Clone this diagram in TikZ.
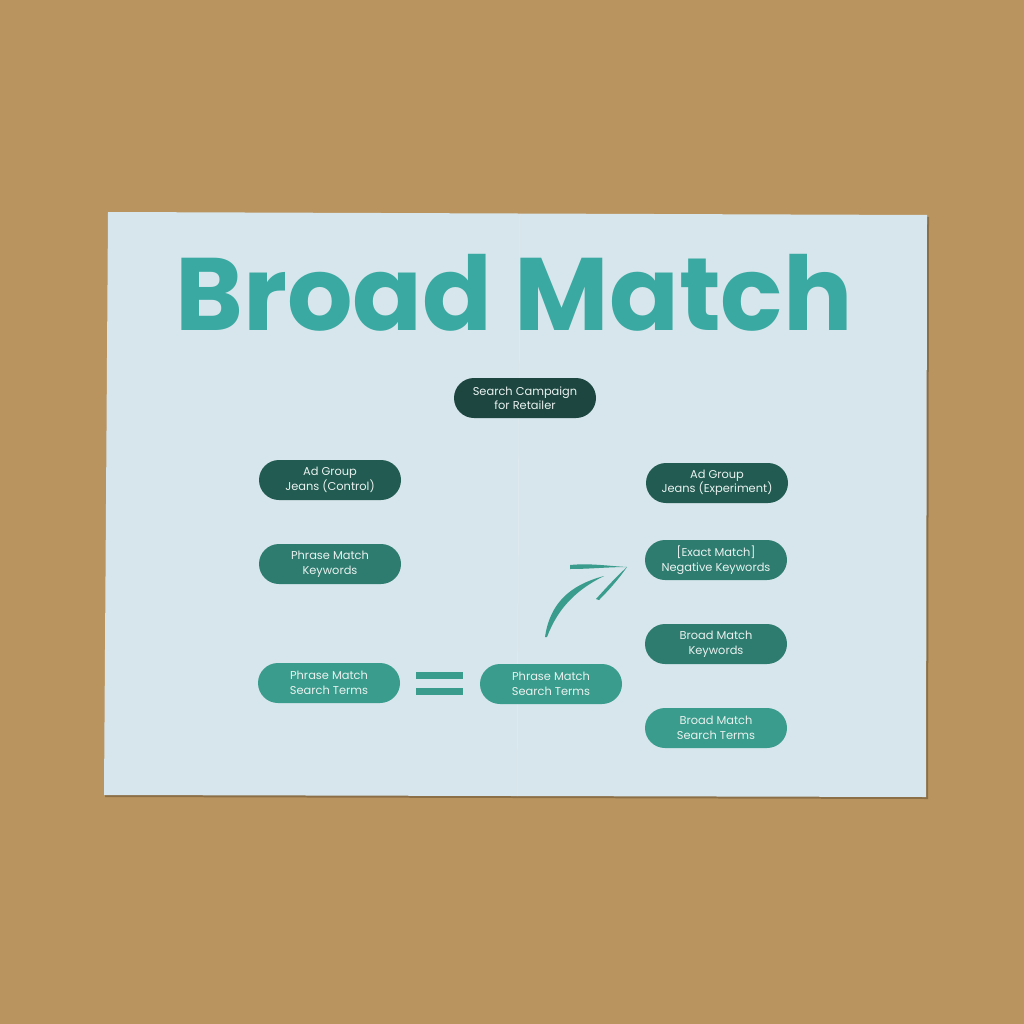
\documentclass[tikz,border=0pt]{standalone}
\usepackage{fontspec}
\setmainfont{Poppins}
\definecolor{kraft}{HTML}{B9945F}
\definecolor{paper}{HTML}{D7E6EC}
\definecolor{titleteal}{HTML}{3AA9A2}
\definecolor{pillA}{HTML}{1D4640}
\definecolor{pillB}{HTML}{215B51}
\definecolor{pillC}{HTML}{2E7C6F}
\definecolor{pillD}{HTML}{3A9C8C}
\definecolor{pilltext}{HTML}{EAF2F0}
\usetikzlibrary{shapes.misc}
\tikzset{
  pill/.style={rounded rectangle, draw=none, minimum width=142pt, minimum height=40pt,
    inner sep=0pt, text=pilltext, font=\fontsize{11.4}{14.5}\selectfont, align=center},
}
\begin{document}
\begin{tikzpicture}[x=1pt,y=-1pt]
\useasboundingbox (0,0) rectangle (1024,1024);
\fill[kraft] (0,0) rectangle (1024,1024);
% shadow
\fill[black!25!kraft] (109,214) -- (929,217) -- (928,799) -- (105,797) -- cycle;
% paper
\fill[paper] (108,212) -- (927,215) -- (926,797) -- (104,795) -- cycle;
\draw[white!25!paper, line width=0.5pt] (520,214) -- (517,796);
% title
\node[text=titleteal, font=\fontsize{103}{110}\selectfont\bfseries, inner sep=0pt] (title) at (514,293) {Broad Match};
% pills
\node[pill, fill=pillA] (camp) at (525,398) {Search Campaign\\for Retailer};
\node[pill, fill=pillB] (agc) at (330,480) {Ad Group\\Jeans (Control)};
\node[pill, fill=pillC] (pmk) at (330,564) {Phrase Match\\Keywords};
\node[pill, fill=pillD] (pmst) at (329,683) {Phrase Match\\Search Terms};
\node[pill, fill=pillD] (pmst2) at (551,684) {Phrase Match\\Search Terms};
\node[pill, fill=pillB] (age) at (717,483) {Ad Group\\Jeans (Experiment)};
\node[pill, fill=pillC] (emn) at (716,560) {[Exact Match]\\Negative Keywords};
\node[pill, fill=pillC] (bmk) at (716,644) {Broad Match\\Keywords};
\node[pill, fill=pillD] (bmst) at (716,728) {Broad Match\\Search Terms};
% equals sign
\fill[pillD] (416,672) rectangle (463,679);
\fill[pillD] (416,688) rectangle (463,695);
% brush arrow
\coordinate (tip) at (627,567);
\fill[pillD] (545,637) .. controls (550,603) and (570,585) .. (604,576)
  .. controls (576,590) and (558,608) .. (547,637) -- cycle;
\fill[pillD] (570,565) .. controls (590,563) and (608,566) .. (tip)
  .. controls (608,567) and (590,569) .. (570,569) -- cycle;
\fill[pillD] (596,599) .. controls (606,588) and (616,577) .. (tip)
  .. controls (618,580) and (608,591) .. (599,600) -- cycle;
\end{tikzpicture}
\end{document}
